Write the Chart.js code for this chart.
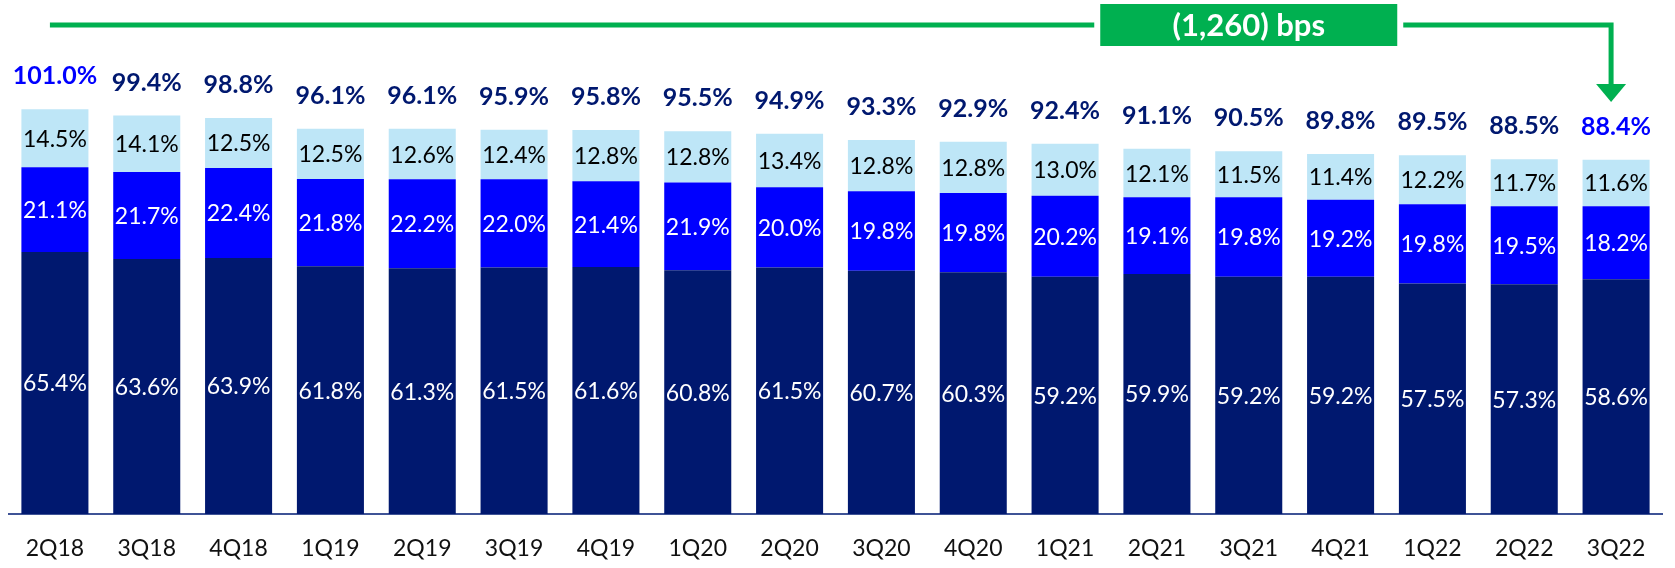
<!DOCTYPE html>
<html>
<head>
<meta charset="utf-8">
<script src="https://cdn.jsdelivr.net/npm/chart.js@4"></script>
<style>
  html, body { margin: 0; padding: 0; background: #fff; }
  #wrap { width: 1675px; height: 568px; position: relative; }
</style>
</head>
<body>
<div id="wrap"><canvas id="ratioChart"></canvas></div>
<script>
// quarters on the x axis
const quarters = ['2Q18', '3Q18', '4Q18', '1Q19', '2Q19', '3Q19', '4Q19', '1Q20', '2Q20',
  '3Q20', '4Q20', '1Q21', '2Q21', '3Q21', '4Q21', '1Q22', '2Q22', '3Q22'];

// stacked pieces, bottom to top
const navyPart = [65.4, 63.6, 63.9, 61.8, 61.3, 61.5, 61.6, 60.8, 61.5, 60.7, 60.3, 59.2, 59.9, 59.2, 59.2, 57.5, 57.3, 58.6];
const bluePart = [21.1, 21.7, 22.4, 21.8, 22.2, 22.0, 21.4, 21.9, 20.0, 19.8, 19.8, 20.2, 19.1, 19.8, 19.2, 19.8, 19.5, 18.2];
const lightPart = [14.5, 14.1, 12.5, 12.5, 12.6, 12.4, 12.8, 12.8, 13.4, 12.8, 12.8, 13.0, 12.1, 11.5, 11.4, 12.2, 11.7, 11.6];

// totals printed above each bar
const totals = [101.0, 99.4, 98.8, 96.1, 96.1, 95.9, 95.8, 95.5, 94.9, 93.3, 92.9, 92.4, 91.1, 90.5, 89.8, 89.5, 88.5, 88.4];

const changeText = '(1,260) bps';

const NAVY = '#00186F';
const BLUE = '#0000FF';
const LIGHT = '#BEE6F7';
const GREEN = '#00B050';

// draws the % inside each segment and the total on top
const labelPlugin = {
  id: 'segLabels',
  afterDatasetsDraw(chart) {
    const ctx = chart.ctx;
    ctx.save();
    ctx.textAlign = 'center';
    ctx.textBaseline = 'middle';
    ctx.font = '23px Lato';
    chart.data.datasets.forEach((ds, i) => {
      const meta = chart.getDatasetMeta(i);
      ctx.fillStyle = ds.labelColor;
      meta.data.forEach((bar, j) => {
        ctx.fillText(ds.data[j].toFixed(1) + '%', bar.x, (bar.y + bar.base) / 2 + 1);
      });
    });

    const yScale = chart.scales.y;
    const xScale = chart.scales.x;
    ctx.font = 'bold 25px Lato';
    totals.forEach((t, j) => {
      const first = j === 0, last = j === totals.length - 1;
      ctx.fillStyle = (first || last) ? BLUE : NAVY;
      ctx.fillText(t.toFixed(1) + '%', xScale.getPixelForValue(j), yScale.getPixelForValue(t) - 33);
    });
    ctx.restore();
  }
};

// green bracket with the change box and arrow
const bracketPlugin = {
  id: 'bracket',
  afterDraw(chart) {
    const ctx = chart.ctx;
    const xScale = chart.scales.x;
    const startX = xScale.getPixelForValue(0) - 5;
    const endX = xScale.getPixelForValue(quarters.length - 1) - 5;
    const boxC = xScale.getPixelForValue(13);
    const lineY = 25;
    const boxW = 297, boxH = 42;

    ctx.save();
    ctx.strokeStyle = GREEN;
    ctx.fillStyle = GREEN;
    ctx.lineWidth = 5;
    ctx.beginPath();
    ctx.moveTo(startX, lineY);
    ctx.lineTo(boxC - boxW / 2 - 6, lineY);
    ctx.stroke();

    ctx.beginPath();
    ctx.moveTo(boxC + boxW / 2 + 6, lineY);
    ctx.lineTo(endX, lineY);
    ctx.lineTo(endX, 85);
    ctx.stroke();

    // arrow head
    ctx.beginPath();
    ctx.moveTo(endX - 15, 84);
    ctx.lineTo(endX + 15, 84);
    ctx.lineTo(endX, 102);
    ctx.closePath();
    ctx.fill();

    ctx.fillRect(boxC - boxW / 2, lineY - boxH / 2, boxW, boxH);
    ctx.fillStyle = '#fff';
    ctx.font = 'bold 31px Lato';
    ctx.textAlign = 'center';
    ctx.textBaseline = 'middle';
    ctx.fillText(changeText, boxC, lineY + 1);
    ctx.restore();
  }
};

new Chart(document.getElementById('ratioChart'), {
  type: 'bar',
  data: {
    labels: quarters,
    datasets: [
      { data: navyPart, backgroundColor: NAVY, labelColor: '#fff' },
      { data: bluePart, backgroundColor: BLUE, labelColor: '#fff' },
      { data: lightPart, backgroundColor: LIGHT, labelColor: '#000' }
    ]
  },
  options: {
    responsive: true,
    maintainAspectRatio: false,
    animation: false,
    layout: { padding: { left: 9, right: 13, top: 13, bottom: 0 } },
    datasets: { bar: { barPercentage: 0.73, categoryPercentage: 1.0 } },
    plugins: { legend: { display: false }, tooltip: { enabled: false } },
    scales: {
      x: {
        stacked: true,
        grid: { display: false, drawTicks: false },
        border: { display: true, color: '#3F5396', width: 2 },
        ticks: { color: '#111', font: { family: 'Lato', size: 23 }, padding: 21 },
        afterFit(scale) { scale.height = 54; }
      },
      y: {
        stacked: true,
        display: false,
        min: 0,
        max: 125
      }
    }
  },
  plugins: [labelPlugin, bracketPlugin]
});
</script>
</body>
</html>
